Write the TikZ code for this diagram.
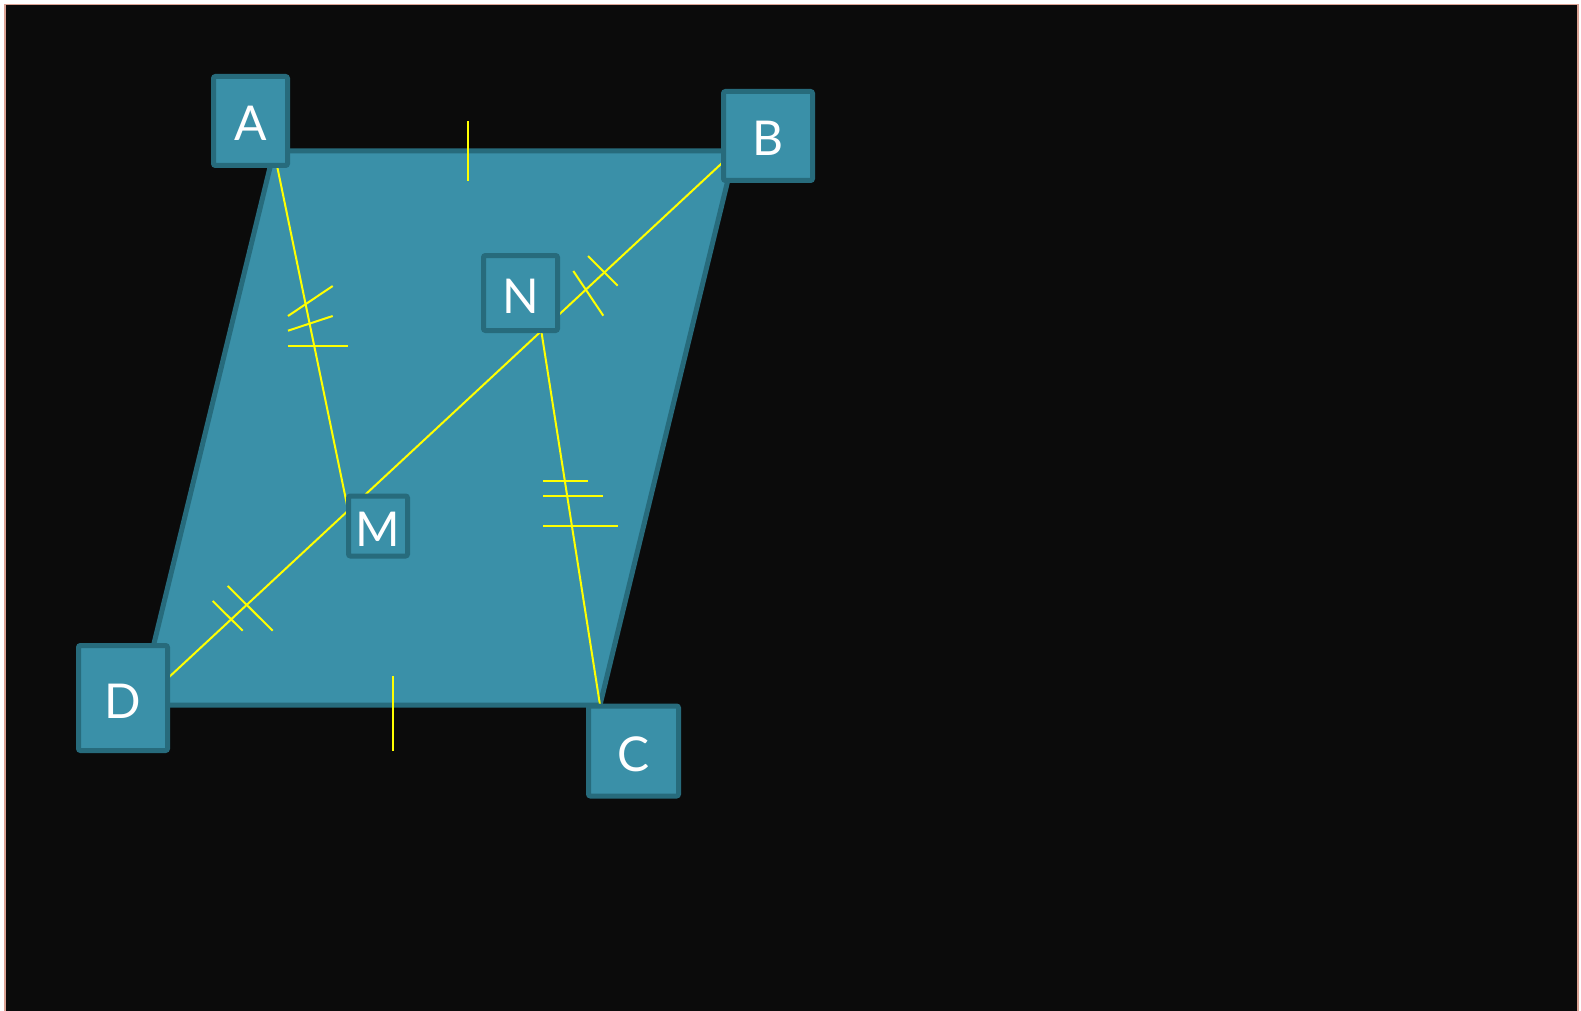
\documentclass[tikz,border=0pt]{standalone}
\usepackage{fontspec}
\setmainfont{Lato}
\usetikzlibrary{calc,positioning}
\definecolor{bgdark}{HTML}{0B0B0B}
\definecolor{tealfill}{HTML}{3A90A8}
\definecolor{tealedge}{HTML}{276B7C}
\definecolor{markyel}{HTML}{FFFF00}
\definecolor{frameline}{HTML}{DBA394}

\begin{document}
\begin{tikzpicture}[x=1pt,y=-1pt,
  lbl/.style={draw=tealedge,fill=tealfill,line width=5pt,rounded corners=2pt,text=white,font=\fontsize{48}{50}\selectfont,inner sep=0pt,text height=40pt,text depth=0pt},
  seg/.style={draw=markyel,line width=2pt},
  tick/.style={draw=markyel,line width=2pt}]
  \useasboundingbox (0,0) rectangle (1581,1011);
  \fill[white] (0,0) rectangle (1581,1011);
  \draw[frameline,fill=bgdark,line width=1.5pt] (4.75,4.75) rectangle (1577.75,1030);

  \coordinate (A) at (274,151);
  \coordinate (B) at (735,151);
  \coordinate (C) at (600,705);
  \coordinate (D) at (139,705);
  \coordinate (M) at ($(D)!0.351!(B)$);
  \coordinate (N) at ($(B)!0.325!(D)$);

  \draw[tealedge,fill=tealfill,line width=5pt] (A) -- (B) -- (C) -- (D) -- cycle;
  \draw[seg] (D) -- (B);
  \draw[seg] (A) -- (M);
  \draw[seg] (C) -- (N);

  \draw[tick] (468,121) -- (468,181);
  \draw[tick] (393,676) -- (393,751);
  \draw[tick] (212.7,601) -- (242.7,630.7);
  \draw[tick] (227.7,586) -- (272.7,630.7);
  \draw[tick] (573.3,271) -- (603.3,315.7);
  \draw[tick] (588,256) -- (617.7,285.7);
  \draw[tick] (288,316) -- (332.7,286);
  \draw[tick] (288,330.7) -- (332.7,316);
  \draw[tick] (288,346) -- (347.7,346);
  \draw[tick] (543,481) -- (587.5,481);
  \draw[tick] (543,496) -- (602.5,496);
  \draw[tick] (543,526) -- (617.5,526);

  \node[lbl,minimum width=74pt,minimum height=89pt] (lA) at (250.5,121) {A};
  \node[lbl,minimum width=89pt,minimum height=89pt] (lB) at (768,136) {B};
  \node[lbl,minimum width=90pt,minimum height=90pt] (lC) at (633.5,751) {C};
  \node[lbl,minimum width=89pt,minimum height=105pt] (lD) at (123,698) {D};
  \node[lbl,minimum width=59pt,minimum height=60pt] (lM) at (378,526) {M};
  \node[lbl,minimum width=74pt,minimum height=75pt] (lN) at (520.5,293) {N};
\end{tikzpicture}
\end{document}
